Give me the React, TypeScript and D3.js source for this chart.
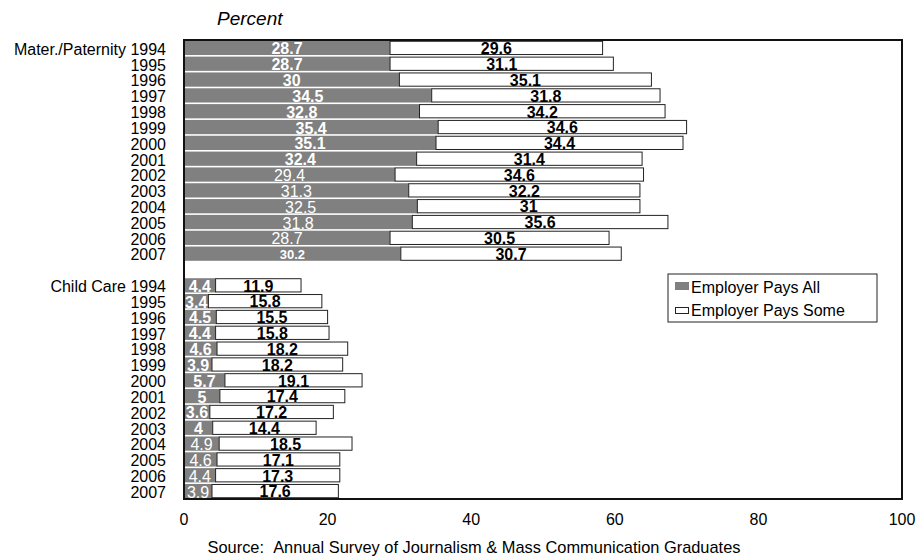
import * as d3 from "d3";

const YEARS = [1994, 1995, 1996, 1997, 1998, 1999, 2000, 2001, 2002, 2003, 2004, 2005, 2006, 2007];
const GROUPS = ["Mater./Paternity", "Child Care"];
const SERIES = ["Employer Pays All", "Employer Pays Some"];

const materAll = [28.7, 28.7, 30, 34.5, 32.8, 35.4, 35.1, 32.4, 29.4, 31.3, 32.5, 31.8, 28.7, 30.2];
const materSome = [29.6, 31.1, 35.1, 31.8, 34.2, 34.6, 34.4, 31.4, 34.6, 32.2, 31, 35.6, 30.5, 30.7];
const childAll = [4.4, 3.4, 4.5, 4.4, 4.6, 3.9, 5.7, 5, 3.6, 4, 4.9, 4.6, 4.4, 3.9];
const childSome = [11.9, 15.8, 15.5, 15.8, 18.2, 18.2, 19.1, 17.4, 17.2, 14.4, 18.5, 17.1, 17.3, 17.6];

// years whose "pays all" label is printed in regular weight in the source
const materPlain = [2002, 2003, 2004, 2005, 2006];
const childPlain = [2004, 2005, 2006, 2007];

const X_TICKS = [0, 20, 40, 60, 80, 100];

const W = 917;
const H = 557;
const M = { top: 40, right: 15, bottom: 58, left: 184 };
const FONT = "Arial, 'Liberation Sans', Helvetica, sans-serif";
const GRAY = "#808080";
const FS = 16;

type Row = { key: string; label: string; all: number; some: number; plain: boolean; small: boolean };

// one empty slot between the two groups
const rows: Row[] = [
  ...YEARS.map((y, i) => ({
    key: `m${y}`,
    label: i === 0 ? `${GROUPS[0]} ${y}` : `${y}`,
    all: materAll[i],
    some: materSome[i],
    plain: materPlain.includes(y),
    small: y === 2007,
  })),
  ...YEARS.map((y, i) => ({
    key: `c${y}`,
    label: i === 0 ? `${GROUPS[1]} ${y}` : `${y}`,
    all: childAll[i],
    some: childSome[i],
    plain: childPlain.includes(y),
    small: false,
  })),
];
const slots = [...rows.slice(0, 14).map((r) => r.key), "gap", ...rows.slice(14).map((r) => r.key)];

export default function App() {
  const x = d3.scaleLinear().domain([0, 100]).range([M.left, W - M.right]);
  const y = d3
    .scaleBand<string>()
    .domain(slots)
    .range([M.top, H - M.bottom])
    .paddingInner(0.1)
    .paddingOuter(0.05);
  const bh = y.bandwidth();
  const plotBottom = H - M.bottom;

  return (
    <div style={{ position: "absolute", left: 0, top: 0 }}>
      <svg width={W} height={H} style={{ display: "block", background: "#fff" }} fontFamily={FONT}>
        <text x={217} y={25} fontSize={19} fontStyle="italic" fill="#000">
          Percent
        </text>

        {rows.map((r) => {
          const y0 = y(r.key)!;
          const cy = y0 + bh / 2;
          const xa = x(r.all);
          const xs = x(r.all + r.some);
          return (
            <g key={r.key}>
              <text x={166} y={cy + 6.8} fontSize={FS} textAnchor="end" fill="#000">
                {r.label}
              </text>
              <rect x={x(0)} y={y0} width={xa - x(0)} height={bh} fill={GRAY} />
              <rect
                x={xa}
                y={y0 + 0.5}
                width={xs - xa}
                height={bh - 1}
                fill="#fff"
                stroke="#222"
                strokeWidth={1}
              />
              <text
                x={(x(0) + xa) / 2}
                y={cy + (r.small ? 5 : 6.5)}
                fontSize={r.small ? 13 : FS}
                fontWeight={r.plain ? "normal" : "bold"}
                textAnchor="middle"
                fill="#fff"
              >
                {r.all}
              </text>
              <text
                x={(xa + xs) / 2}
                y={cy + 6.3}
                fontSize={FS}
                fontWeight="bold"
                textAnchor="middle"
                fill="#000"
              >
                {r.some}
              </text>
            </g>
          );
        })}

        <rect
          x={x(0)}
          y={M.top}
          width={x(100) - x(0)}
          height={plotBottom - M.top}
          fill="none"
          stroke="#111"
          strokeWidth={2}
        />

        {X_TICKS.map((t) => (
          <text key={t} x={x(t)} y={525} fontSize={FS} textAnchor="middle" fill="#000">
            {t}
          </text>
        ))}

        <g transform="translate(668,274)">
          <rect x={0} y={0} width={209} height={48} fill="#fff" stroke="#222" strokeWidth={1} />
          <rect x={7} y={8} width={14} height={8} fill={GRAY} />
          <text x={23} y={18.5} fontSize={FS} fill="#000">
            {SERIES[0]}
          </text>
          <rect x={7.5} y={33.5} width={13} height={6} fill="#fff" stroke="#222" strokeWidth={1} />
          <text x={23} y={42} fontSize={FS} fill="#000">
            {SERIES[1]}
          </text>
        </g>

        <text x={474} y={553} fontSize={16.4} textAnchor="middle" fill="#000">
          Source:{"\u00a0\u00a0"}Annual Survey of Journalism &amp; Mass Communication Graduates
        </text>
      </svg>
    </div>
  );
}
